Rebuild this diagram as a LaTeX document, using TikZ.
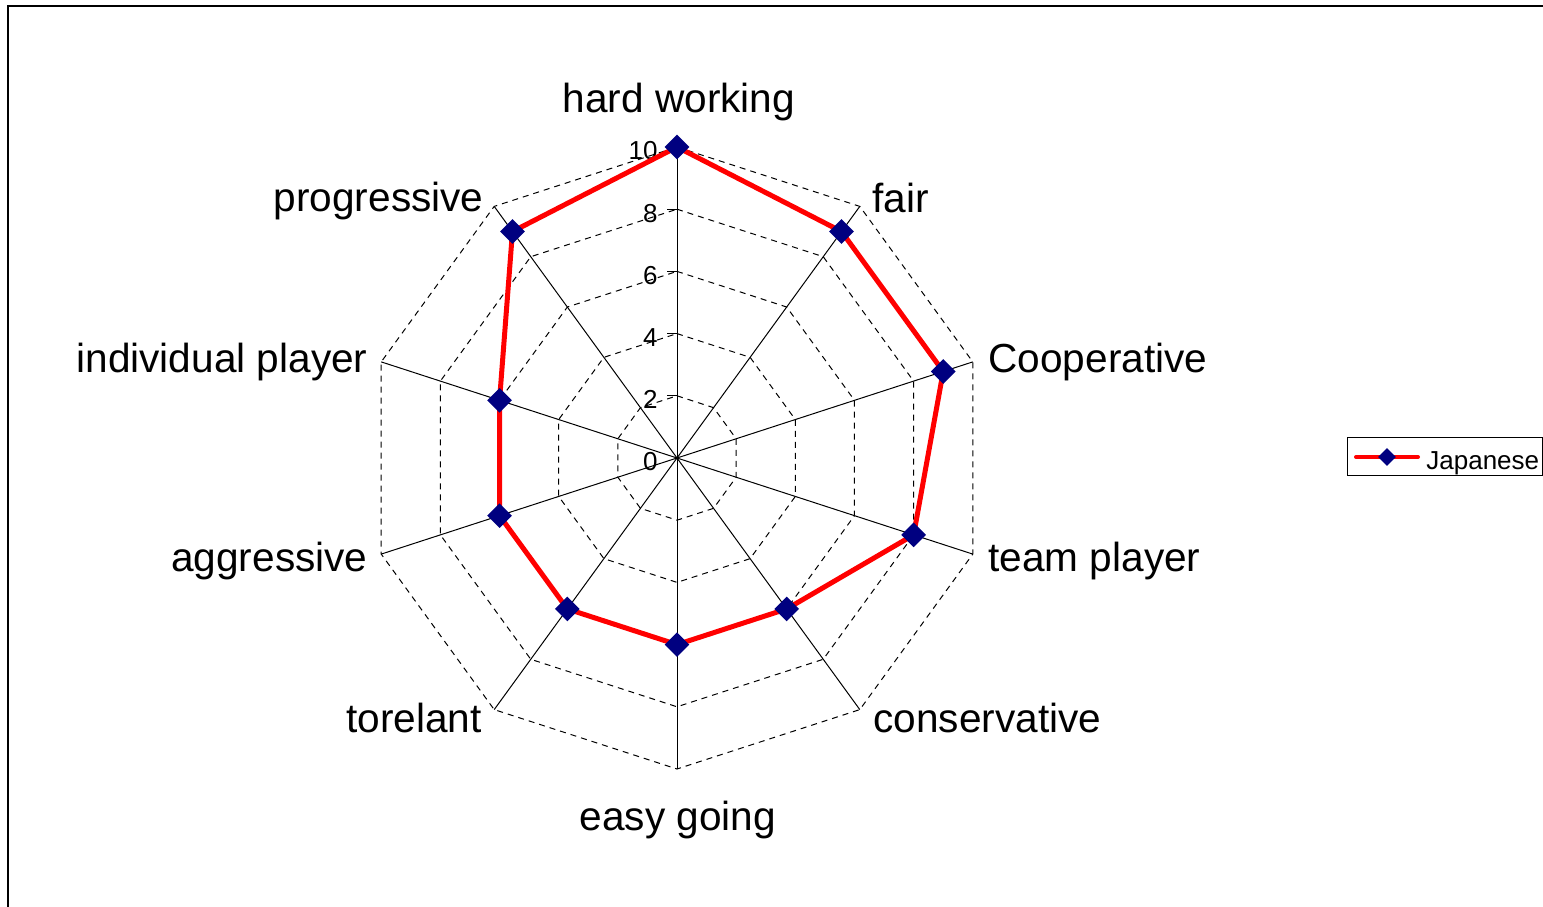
\documentclass[tikz,border=0pt]{standalone}
\usepackage{fontspec}
\setmainfont{Liberation Sans}
\usetikzlibrary{shapes.geometric}
\definecolor{jpnavy}{RGB}{0,0,128}
\definecolor{jpred}{RGB}{255,0,0}

\begin{document}
\begin{tikzpicture}[x=0.5pt,y=0.5pt]
\tikzset{spoke/.style={black,line width=0.5pt}}
\tikzset{ring/.style={black,line width=0.5pt,dash pattern=on 3pt off 2.5pt}}
\tikzset{series/.style={jpred,line width=2.5pt,line join=round}}
\tikzset{jpmark/.style={diamond,fill=jpnavy,inner sep=0pt,minimum size=12.5pt}}
\tikzset{axlabel/.style={font=\fontsize{20.3}{24}\selectfont,inner sep=0pt}}
\tikzset{ticklabel/.style={font=\fontsize{13}{15}\selectfont,inner sep=0pt,anchor=east}}

\useasboundingbox (0,0) rectangle (1543,906);
\draw[line width=1pt] (8,-10) |- (1560,900);

\begin{scope}[shift={(677,448)}]
\coordinate (c) at (0,0);

% dashed rings
\draw[ring] (90:62.2) -- (54:62.2) -- (18:62.2) -- (-18:62.2) -- (-54:62.2) -- (-90:62.2) -- (-126:62.2) -- (-162:62.2) -- (162:62.2) -- (126:62.2) -- cycle;
\draw[ring] (90:124.4) -- (54:124.4) -- (18:124.4) -- (-18:124.4) -- (-54:124.4) -- (-90:124.4) -- (-126:124.4) -- (-162:124.4) -- (162:124.4) -- (126:124.4) -- cycle;
\draw[ring] (90:186.6) -- (54:186.6) -- (18:186.6) -- (-18:186.6) -- (-54:186.6) -- (-90:186.6) -- (-126:186.6) -- (-162:186.6) -- (162:186.6) -- (126:186.6) -- cycle;
\draw[ring] (90:248.8) -- (54:248.8) -- (18:248.8) -- (-18:248.8) -- (-54:248.8) -- (-90:248.8) -- (-126:248.8) -- (-162:248.8) -- (162:248.8) -- (126:248.8) -- cycle;
\draw[ring] (90:311) -- (54:311) -- (18:311) -- (-18:311) -- (-54:311) -- (-90:311) -- (-126:311) -- (-162:311) -- (162:311) -- (126:311) -- cycle;

% spokes
\coordinate (a1) at (90:311);
\coordinate (a2) at (54:311);
\coordinate (a3) at (18:311);
\coordinate (a4) at (-18:311);
\coordinate (a5) at (-54:311);
\coordinate (a6) at (-90:311);
\coordinate (a7) at (-126:311);
\coordinate (a8) at (-162:311);
\coordinate (a9) at (162:311);
\coordinate (a10) at (126:311);
\draw[spoke] (c) -- (a1);
\draw[spoke] (c) -- (a2);
\draw[spoke] (c) -- (a3);
\draw[spoke] (c) -- (a4);
\draw[spoke] (c) -- (a5);
\draw[spoke] (c) -- (a6);
\draw[spoke] (c) -- (a7);
\draw[spoke] (c) -- (a8);
\draw[spoke] (c) -- (a9);
\draw[spoke] (c) -- (a10);

% ticks and scale
\draw[spoke] (0,62.2) -- (-10,62.2);
\draw[spoke] (0,124.4) -- (-10,124.4);
\draw[spoke] (0,186.6) -- (-10,186.6);
\draw[spoke] (0,248.8) -- (-10,248.8);
\draw[spoke] (0,311) -- (-10,311);
\node[ticklabel] (s0) at (-19,-4) {0};
\node[ticklabel] (s2) at (-19,58.2) {2};
\node[ticklabel] (s4) at (-19,120.4) {4};
\node[ticklabel] (s6) at (-19,182.6) {6};
\node[ticklabel] (s8) at (-19,244.8) {8};
\node[ticklabel] (s10) at (-19,307) {10};

% Japanese series
\coordinate (v1) at (90:311);
\coordinate (v2) at (54:279.9);
\coordinate (v3) at (18:279.9);
\coordinate (v4) at (-18:248.8);
\coordinate (v5) at (-54:186.6);
\coordinate (v6) at (-90:186.6);
\coordinate (v7) at (-126:186.6);
\coordinate (v8) at (-162:186.6);
\coordinate (v9) at (162:186.6);
\coordinate (v10) at (126:279.9);
\draw[series] (v1) -- (v2) -- (v3) -- (v4) -- (v5) -- (v6) -- (v7) -- (v8) -- (v9) -- (v10) -- cycle;
\node[jpmark] (m1) at (v1) {};
\node[jpmark] (m2) at (v2) {};
\node[jpmark] (m3) at (v3) {};
\node[jpmark] (m4) at (v4) {};
\node[jpmark] (m5) at (v5) {};
\node[jpmark] (m6) at (v6) {};
\node[jpmark] (m7) at (v7) {};
\node[jpmark] (m8) at (v8) {};
\node[jpmark] (m9) at (v9) {};
\node[jpmark] (m10) at (v10) {};
\end{scope}

% axis labels
\node[axlabel,anchor=base] (lhard) at (679,793) {hard working};
\node[axlabel,anchor=base west] (lfair) at (872,693) {fair};
\node[axlabel,anchor=base west] (lcoop) at (988,533) {Cooperative};
\node[axlabel,anchor=base west] (lteam) at (988,334) {team player};
\node[axlabel,anchor=base west] (lcons) at (873,174) {conservative};
\node[axlabel,anchor=base] (leasy) at (678,76) {easy going};
\node[axlabel,anchor=base east] (ltor) at (482,174) {torelant};
\node[axlabel,anchor=base east] (laggr) at (368,334) {aggressive};
\node[axlabel,anchor=base east] (lindiv) at (368,533) {individual player};
\node[axlabel,anchor=base east] (lprog) at (484,694) {progressive};

% legend
\node[draw,line width=0.5pt,inner sep=0pt,minimum width=97.5pt,minimum height=19pt,anchor=south west] (legbox) at (1347,430) {};
\coordinate (lg1) at (1356,449);
\coordinate (lg2) at (1418,449);
\draw[series,line width=2pt,line cap=round] (lg1) -- (lg2);
\node[jpmark,minimum size=9pt] (lgmark) at (1387,449) {};
\node[anchor=base west,inner sep=0pt,font=\fontsize{13}{15}\selectfont] (legtext) at (1426,436) {Japanese};
\end{tikzpicture}
\end{document}
